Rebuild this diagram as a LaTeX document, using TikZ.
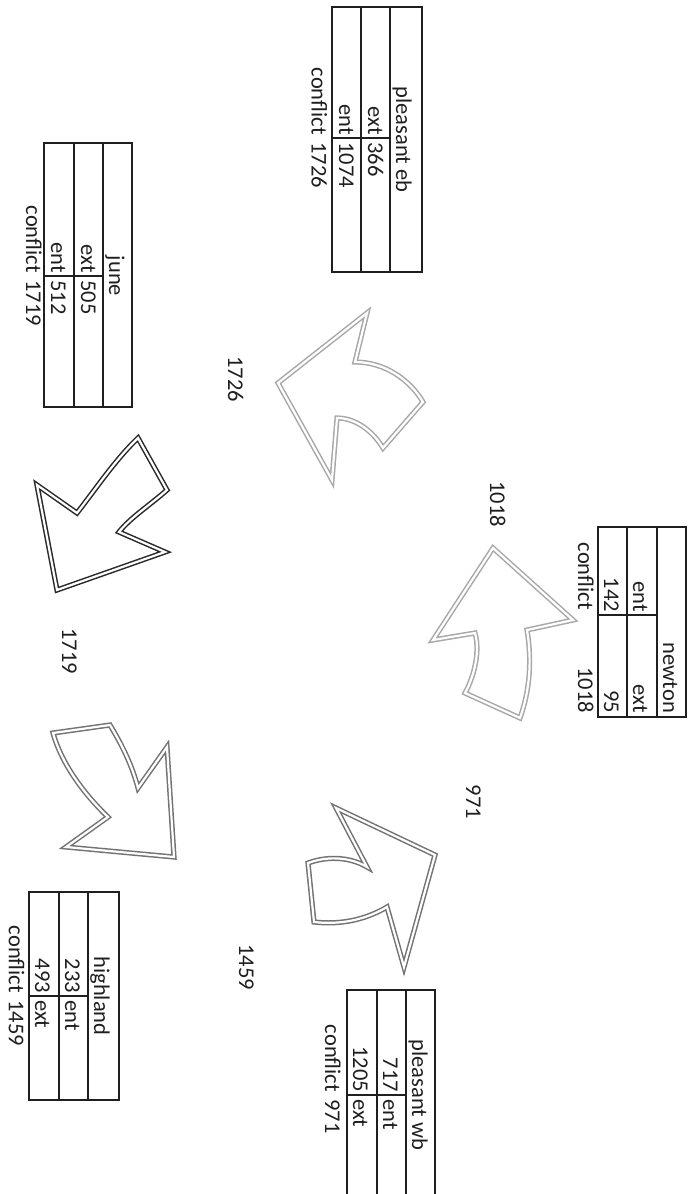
\documentclass[tikz,border=0pt]{standalone}
\usepackage{fontspec}
\setmainfont{Carlito}
\newcommand\lblfont{\fontsize{22.5}{27}\selectfont}
\definecolor{lightA}{gray}{0.66}
\definecolor{midA}{gray}{0.45}
\definecolor{darkA}{gray}{0.16}
\definecolor{ink}{gray}{0.12}
\begin{document}
\begin{tikzpicture}[x=1pt,y=-1pt,
  tab/.style={draw=ink, line width=1.3pt},
  lbl/.style={rotate=-90, inner sep=0pt, font=\lblfont, text=ink},
  blk/.style={draw=#1, line width=1.5pt, double=white, double distance=2.2pt, line join=miter},
]
\useasboundingbox[fill=white] (0,0) rectangle (689,1194);
\clip (0,0) rectangle (689,1194);

% ---------- pleasant eb ----------
\draw[tab] (332,7) rectangle (422,272);
\draw[tab] (361,7) -- (361,272) (390,7) -- (390,272) (332,138) -- (390,138);
\node[lbl, anchor=base] (pebT) at (396,139.5) {pleasant eb};
\node[lbl, anchor=base east] (pebA) at (368,135) {ext};
\node[lbl, anchor=base west] (pebB) at (368,142) {366};
\node[lbl, anchor=base east] (pebC) at (339,135) {ent};
\node[lbl, anchor=base west] (pebD) at (339,142) {1074};
\node[lbl, anchor=base east] (pebE) at (311.5,135) {conflict};
\node[lbl, anchor=base west] (pebF) at (311.5,142) {1726};

% ---------- june ----------
\draw[tab] (44,143) rectangle (132,407);
\draw[tab] (74,143) -- (74,407) (103,143) -- (103,407) (44,276) -- (103,276);
\node[lbl, anchor=base] (junT) at (109,276) {june};
\node[lbl, anchor=base east] (junA) at (81,273) {ext};
\node[lbl, anchor=base west] (junB) at (81,280) {505};
\node[lbl, anchor=base east] (junC) at (51,273) {ent};
\node[lbl, anchor=base west] (junD) at (51,280) {512};
\node[lbl, anchor=base east] (junE) at (26,273) {conflict};
\node[lbl, anchor=base west] (junF) at (26,280) {1719};

% ---------- newton ----------
\draw[tab] (598,527) rectangle (686,717);
\draw[tab] (627,527) -- (627,717) (657,527) -- (657,717) (598,615) -- (657,615);
\node[lbl, anchor=base east] (newT) at (663,713) {newton};
\node[lbl, anchor=base east] (newA) at (633,612) {ent};
\node[lbl, anchor=base east] (newB) at (633,713) {ext};
\node[lbl, anchor=base east] (newC) at (604,612) {142};
\node[lbl, anchor=base east] (newD) at (604,713) {95};
\node[lbl, anchor=base east] (newE) at (578,610) {conflict};
\node[lbl, anchor=base east] (newF) at (578,713) {1018};

% ---------- highland ----------
\draw[tab] (29,892) rectangle (119,1100);
\draw[tab] (59,892) -- (59,1100) (88,892) -- (88,1100) (29,996) -- (88,996);
\node[lbl, anchor=base] (hilT) at (94,996) {highland};
\node[lbl, anchor=base east] (hilA) at (65,993) {233};
\node[lbl, anchor=base west] (hilB) at (65,1000) {ent};
\node[lbl, anchor=base east] (hilC) at (35,993) {493};
\node[lbl, anchor=base west] (hilD) at (35,1000) {ext};
\node[lbl, anchor=base east] (hilE) at (9,993) {conflict};
\node[lbl, anchor=base west] (hilF) at (9,1000) {1459};

% ---------- pleasant wb ----------
\draw[tab] (347,990) rectangle (435,1200);
\draw[tab] (377,990) -- (377,1200) (406,990) -- (406,1200) (347,1095) -- (406,1095);
\node[lbl, anchor=base] (pwbT) at (412,1095) {pleasant wb};
\node[lbl, anchor=base east] (pwbA) at (383,1092) {717};
\node[lbl, anchor=base west] (pwbB) at (383,1099) {ent};
\node[lbl, anchor=base east] (pwbC) at (353,1092) {1205};
\node[lbl, anchor=base west] (pwbD) at (353,1099) {ext};
\node[lbl, anchor=base east] (pwbE) at (325,1092) {conflict};
\node[lbl, anchor=base west] (pwbF) at (325,1099) {971};

% ---------- flow labels ----------
\node[lbl, anchor=base] (l1726) at (228,379) {1726};
\node[lbl, anchor=base] (l1018) at (490,504) {1018};
\node[lbl, anchor=base] (l1719) at (62,651) {1719};
\node[lbl, anchor=base] (l971)  at (466,802) {971};
\node[lbl, anchor=base] (l1459) at (239,967) {1459};

% ---------- block arrows ----------
% toward june (light)
\draw[blk=lightA] (367,313) -- (278,383) -- (332,480) -- (337,418)
  .. controls (355,418) and (372,430) .. (383,448) -- (423,402)
  .. controls (410,380) and (385,362) .. (355,362) -- cycle;
% newton (light)
\draw[blk=lightA] (493,548) -- (573,620) -- (527,630)
  .. controls (532,660) and (530,690) .. (520,718) -- (465,693)
  .. controls (475,675) and (480,650) .. (475,633) -- (433,640) -- cycle;
% june down (dark)
\draw[blk=darkA] (138,438) -- (167,490)
  .. controls (150,505) and (130,518) .. (119,532) -- (165,552) -- (57,590)
  -- (37,485) -- (77,513) .. controls (95,490) and (115,460) .. (138,438) -- cycle;
% highland (mid)
\draw[blk=midA] (53,733) -- (110,725)
  .. controls (122,745) and (132,765) .. (138,788) -- (167,747) -- (174,857)
  -- (66,847) -- (108,817) .. controls (85,795) and (62,765) .. (53,733) -- cycle;
% pleasant wb (mid)
\draw[blk=midA] (336,808) -- (435,855) -- (404,967) -- (387,907)
  .. controls (365,920) and (340,925) .. (314,922) -- (308,863)
  .. controls (330,855) and (352,858) .. (367,867) -- cycle;
\end{tikzpicture}
\end{document}
